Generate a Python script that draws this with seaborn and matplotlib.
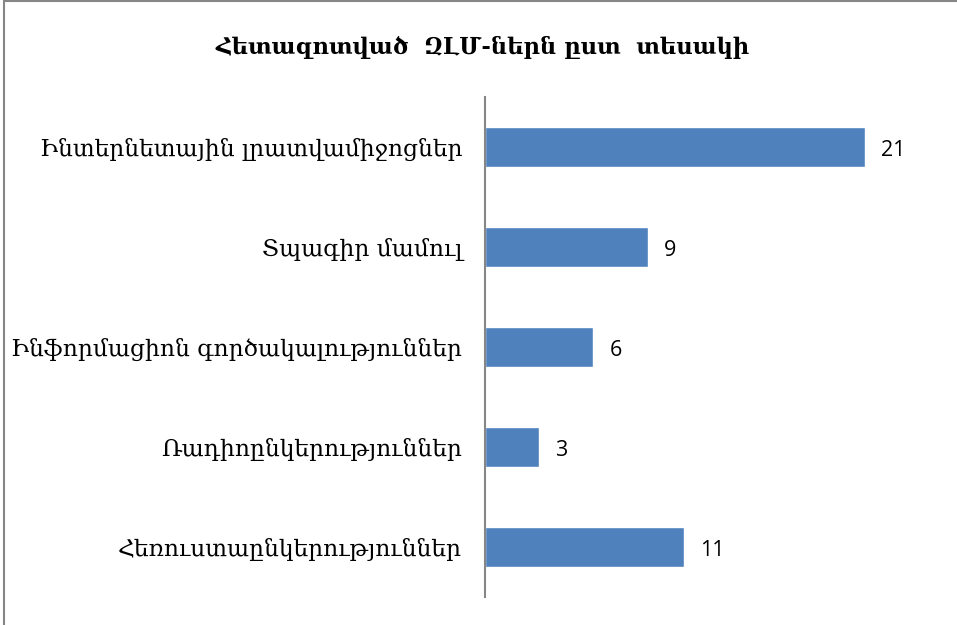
import matplotlib
matplotlib.use("Agg")
import matplotlib.pyplot as plt
import seaborn as sns
import pandas as pd
from matplotlib.patches import Rectangle

categories = ["Ինտերնետային լրատվամիջոցներ", "Տպագիր մամուլ",
              "Ինֆորմացիոն գործակալություններ", "Ռադիոընկերություններ",
              "Հեռուստաընկերություններ"]
values = [21, 9, 6, 3, 11]
title = "Հետազոտված  ԶԼՄ-ներն ըստ  տեսակի"

df = pd.DataFrame({"cat": categories, "val": values})

sns.set_theme(style="white")
plt.rcParams['font.family'] = ['DejaVu Serif', 'DejaVu Sans']

fig = plt.figure(figsize=(9.57, 6.25), dpi=100)
ax = fig.add_axes([485/957, (625-597)/625, (937-485)/957, 500/625])
sns.barplot(data=df, x="val", y="cat", orient="h", color="#4F81BD",
            saturation=1, width=0.4, ax=ax)
ax.set_xlim(0, 25)
ax.set_ylim(4.5, -0.5)
ax.set_xlabel("")
ax.set_ylabel("")
ax.set_xticks([])
for s in ["top", "right", "bottom"]:
    ax.spines[s].set_visible(False)
ax.spines["left"].set_color("#868686")
ax.spines["left"].set_linewidth(1.5)
ax.tick_params(axis="y", length=0, pad=16.5, labelsize=16.8, labelcolor="black")
for i, v in enumerate(values):
    ax.text(v + 0.9, i + 0.03, str(v), va="center", ha="left", fontsize=15.5,
            family=["Open Sans", "DejaVu Sans"], color="black")

fig.text(483/957, 1 - 47/625, title, ha="center", va="center", fontsize=16.3,
         fontweight="bold", family=["DejaVu Serif", "DejaVu Sans"], color="black")

fig.add_artist(Rectangle((4/957, -0.1), 1.5, 1.1 - 1.5/625, transform=fig.transFigure,
                         fill=False, edgecolor="#868686", linewidth=1.5))
fig.savefig("out.png", dpi=100)
